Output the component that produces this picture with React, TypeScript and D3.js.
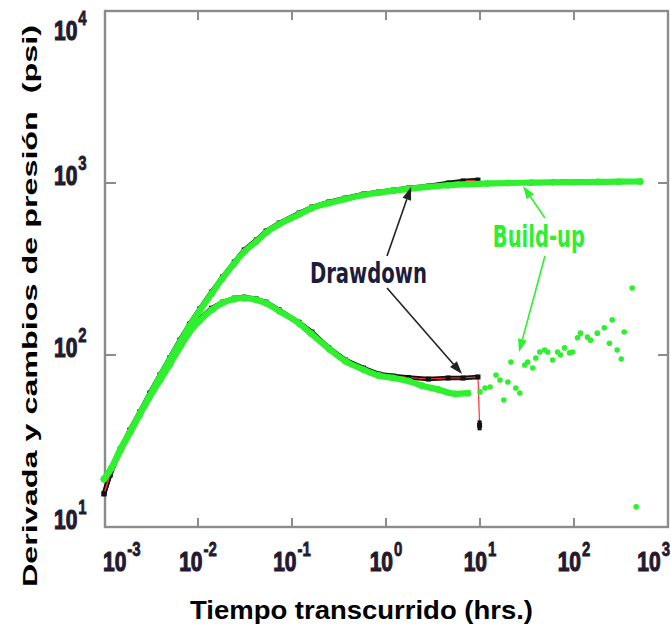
import React from 'react';
import * as d3 from 'd3';

const W = 671;
const H = 630;

// Axis ticks
const xTicks = [1e-3, 1e-2, 1e-1, 1, 10, 100, 1000];
const xExps = ['-3', '-2', '-1', '0', '1', '2', '3'];
const yTicks = [10, 100, 1000, 10000];
const yExps = ['1', '2', '3', '4'];

// Drawdown: pressure change
const ddT = [0.001, 0.00116, 0.00148, 0.00188, 0.0024, 0.00307, 0.00392, 0.005, 0.0064, 0.0081, 0.0104, 0.0139, 0.0182, 0.0243, 0.031, 0.0416, 0.053, 0.073, 0.119, 0.163, 0.247, 0.372, 0.578, 0.834, 1.2, 1.73, 2.82, 4.58, 6.61, 9.52];
const ddDp = [15.6, 20.1, 28.0, 36.6, 46.6, 60.1, 76.5, 96.1, 122, 151, 185, 232, 284, 347, 408, 466, 526, 585, 669, 725, 776, 818, 863, 887, 911, 935, 961, 1000, 1028, 1040];

// Drawdown: derivative
const ddDerT = [0.001, 0.00116, 0.00148, 0.00188, 0.0024, 0.00307, 0.00392, 0.005, 0.0064, 0.0081, 0.0104, 0.0139, 0.0182, 0.0243, 0.031, 0.0416, 0.053, 0.073, 0.119, 0.163, 0.247, 0.372, 0.578, 0.834, 1.2, 1.73, 2.82, 4.58, 6.61, 9.52, 9.9];
const ddDer = [15.6, 20.1, 28, 36, 45.5, 58, 73, 90, 115, 138, 162, 187, 203, 214, 217, 212, 203, 183, 155, 136, 110, 93.5, 84, 77.6, 75.5, 74, 72.5, 73.5, 73.5, 74.5, 39];

// Build-up: pressure change
const buT = [0.001, 0.0012, 0.0015, 0.0019, 0.0024, 0.003, 0.004, 0.005, 0.0065, 0.008, 0.0104, 0.014, 0.018, 0.024, 0.031, 0.042, 0.053, 0.073, 0.12, 0.16, 0.25, 0.37, 0.58, 0.83, 1.2, 1.73, 2.82, 4.58, 7.5, 12, 20, 35, 60, 100, 180, 300, 506];
const buDp = [19, 22, 28.5, 36, 45.5, 57, 76, 94, 120, 146, 181, 228, 277, 338, 398, 458, 515, 575, 658, 712, 765, 808, 852, 878, 902, 925, 950, 970, 985, 993, 1000, 1005, 1010, 1012, 1015, 1018, 1020];

// Build-up: derivative (smooth part)
const buDerT = [0.001, 0.0012, 0.0015, 0.0019, 0.0024, 0.003, 0.004, 0.005, 0.0065, 0.008, 0.0104, 0.014, 0.018, 0.024, 0.031, 0.042, 0.053, 0.073, 0.12, 0.16, 0.25, 0.37, 0.58, 0.83, 1.2, 1.73, 2.38, 3.59, 5.44, 7.46];
const buDer = [19, 22, 28, 35.5, 45, 56, 72, 88, 112, 134, 158, 183, 200, 211, 214, 209, 200, 180, 152, 133, 108, 92, 82, 76, 73.5, 70.6, 66.5, 63, 59.5, 60];

// Build-up: derivative (scattered late-time part)
const buScT = [10.0, 11.3, 12.8, 14.8, 16.3, 17.9, 19.8, 21.3, 24.0, 26.5, 29.9, 32.2, 36.4, 39.2, 43.2, 48.7, 52.5, 59.2, 66.9, 72.0, 79.3, 89.6, 96.4, 109, 117, 139, 150, 177, 210, 238, 255, 288, 318, 342, 416, 459];
const buScV = [61.0, 64.3, 65.2, 76.5, 71.6, 54.8, 69.7, 91.0, 64.3, 60.1, 87.5, 91.0, 84.0, 96.1, 104, 107, 104, 93.5, 104, 100, 110, 103, 104, 126, 134, 127, 122, 134, 144, 117, 160, 107, 94.8, 136, 245, 13.1];

// Annotations (data coordinates)
const ddLabel = { text: 'Drawdown', t: 0.155, v: 262 };
const buLabel = { text: 'Build-up', t: 13.7, v: 425 };
const ddArrows = [
  { t0: 1.025, v0: 376, t1: 1.85, v1: 948 },
  { t0: 1.025, v0: 245, t1: 6.44, v1: 77.6 },
];
const buArrows = [
  { t0: 49.1, v0: 626, t1: 28.7, v1: 961 },
  { t0: 49.1, v0: 376, t1: 26.0, v1: 104 },
];

const GREEN = '#2ef02e';
const FRAME = '#8c8c8c';
const LABEL = '#241a30';
const SANS = 'Liberation Sans, Arial, Helvetica, sans-serif';

const xScale = d3.scaleLog().domain([1e-3, 1e3]).range([104, 668]);
const yScale = d3.scaleLog().domain([10, 1e4]).range([527, 11]);

const zip = (ts: number[], vs: number[]) => ts.map((t, i) => [t, vs[i]] as [number, number]);

const lineGen = d3
  .line<[number, number]>()
  .x((d) => xScale(d[0]))
  .y((d) => yScale(d[1]));
const smoothGen = d3
  .line<[number, number]>()
  .x((d) => xScale(d[0]))
  .y((d) => yScale(d[1]))
  .curve(d3.curveMonotoneX);

function Arrow({ x0, y0, x1, y1, color, len, wid }: any) {
  const a = Math.atan2(y1 - y0, x1 - x0);
  const bx = x1 - len * Math.cos(a);
  const by = y1 - len * Math.sin(a);
  const px = (wid / 2) * Math.cos(a + Math.PI / 2);
  const py = (wid / 2) * Math.sin(a + Math.PI / 2);
  return (
    <g>
      <line x1={x0} y1={y0} x2={bx} y2={by} stroke={color} strokeWidth={1.6} />
      <polygon points={`${x1},${y1} ${bx + px},${by + py} ${bx - px},${by - py}`} fill={color} />
    </g>
  );
}

const TEN_FS = 21;
const EXP_FS = 15;
const tenW = TEN_FS * 1.112;
const expW = (s: string) => s.split('').reduce((acc, c) => acc + (c === '-' ? 0.333 : 0.556) * EXP_FS, 0);

function PowLabel({ left, base, exp }: { left: number; base: number; exp: string }) {
  return (
    <g transform={`translate(${left},${base}) scale(1,1.35)`}>
      <text x={0} y={0} fontSize={TEN_FS} fontFamily={SANS} fontWeight={700} fill={LABEL} stroke={LABEL} strokeWidth={0.9}>
        10
      </text>
      <text x={tenW + 1} y={-11} fontSize={EXP_FS} fontFamily={SANS} fontWeight={700} fill={LABEL} stroke={LABEL} strokeWidth={0.6}>
        {exp}
      </text>
    </g>
  );
}

export default function App() {
  const ddDpPts = zip(ddT, ddDp);
  const ddDerPts = zip(ddDerT, ddDer);
  const buDpPts = zip(buT, buDp);
  const buDerPts = zip(buDerT, buDer);
  const buScPts = zip(buScT, buScV);

  const x0 = xScale(1e-3) + 1;
  const x1 = xScale(1e3);
  const y0 = yScale(1e4);
  const y1 = yScale(10);

  return (
    <svg width={W} height={H} style={{ position: 'absolute', left: 0, top: 0, background: '#fff' }}>
      <rect x={0} y={0} width={W} height={H} fill="#fff" />

      {/* frame */}
      <rect x={x0} y={y0} width={x1 - x0} height={y1 - y0} fill="none" stroke={FRAME} strokeWidth={2.4} />
      {xTicks.slice(1, -1).map((t) => (
        <g key={'xt' + t}>
          <line x1={xScale(t)} x2={xScale(t)} y1={y1} y2={y1 - 9} stroke={FRAME} strokeWidth={2} />
          <line x1={xScale(t)} x2={xScale(t)} y1={y0} y2={y0 + 9} stroke={FRAME} strokeWidth={2} />
        </g>
      ))}
      {yTicks.slice(1, -1).map((v) => (
        <g key={'yt' + v}>
          <line x1={x0} x2={x0 + 11} y1={yScale(v)} y2={yScale(v)} stroke={FRAME} strokeWidth={2} />
          <line x1={x1} x2={x1 - 10} y1={yScale(v)} y2={yScale(v)} stroke={FRAME} strokeWidth={2} />
        </g>
      ))}

      {/* tick labels */}
      {xTicks.map((t, i) => {
        const total = tenW + 1 + expW(xExps[i]);
        const tx = xScale(t);
        const left = i === 0 ? tx - 1 : i === xTicks.length - 1 ? tx + 2 - total : tx - total / 2;
        return <PowLabel key={'xl' + i} left={left} base={571} exp={xExps[i]} />;
      })}
      {yTicks.map((v, i) => (
        <PowLabel key={'yl' + i} left={54} base={Math.max(yScale(v) + 2, 40)} exp={yExps[i]} />
      ))}

      {/* axis titles */}
      <text
        x={361.5}
        y={619}
        textAnchor="middle"
        fontFamily={SANS}
        fontWeight={700}
        fontSize={26}
        textLength={343}
        lengthAdjust="spacingAndGlyphs"
        fill="#000"
      >
        Tiempo transcurrido (hrs.)
      </text>
      <text
        transform="translate(37,306) rotate(-90)"
        x={0}
        y={0}
        textAnchor="middle"
        fontFamily={SANS}
        fontWeight={700}
        fontSize={21}
        textLength={562}
        lengthAdjust="spacingAndGlyphs"
        fill="#000"
        style={{ whiteSpace: 'pre' }}
      >
        {'Derivada y cambios de presión  (psi)'}
      </text>

      {/* drawdown: black squares joined by a thin red line */}
      <path d={lineGen(ddDpPts) || ''} fill="none" stroke="#111" strokeWidth={4.5} />
      <path d={lineGen(ddDerPts.slice(0, -1)) || ''} fill="none" stroke="#111" strokeWidth={4.5} />
      <path d={lineGen(ddDpPts) || ''} fill="none" stroke="#ff3030" strokeWidth={1} />
      <path d={lineGen(ddDerPts) || ''} fill="none" stroke="#ff3030" strokeWidth={1.2} />
      {ddDpPts.concat(ddDerPts).map((d, i) => (
        <rect key={'dd' + i} x={xScale(d[0]) - 2.5} y={yScale(d[1]) - 2.5} width={5} height={5} fill="#111" />
      ))}
      {ddDerPts.slice(-1).map((d, i) => (
        <rect key={'ddend' + i} x={xScale(d[0]) - 2} y={yScale(d[1]) - 5} width={4} height={10} fill="#111" />
      ))}

      {/* build-up: green */}
      <path d={smoothGen(buDpPts) || ''} fill="none" stroke={GREEN} strokeWidth={6.2} strokeLinecap="round" />
      <path d={smoothGen(buDerPts) || ''} fill="none" stroke={GREEN} strokeWidth={6.2} strokeLinecap="round" />
      {buDpPts.concat(buDerPts).map((d, i) => (
        <circle key={'bu' + i} cx={xScale(d[0])} cy={yScale(d[1])} r={3.4} fill={GREEN} />
      ))}
      {buScPts.map((d, i) => (
        <circle key={'bs' + i} cx={xScale(d[0])} cy={yScale(d[1])} r={2.8} fill={GREEN} />
      ))}

      {/* annotations */}
      {ddArrows.map((a, i) => (
        <Arrow key={'da' + i} x0={xScale(a.t0)} y0={yScale(a.v0)} x1={xScale(a.t1)} y1={yScale(a.v1)} color="#222" len={13} wid={9} />
      ))}
      {buArrows.map((a, i) => (
        <Arrow key={'ba' + i} x0={xScale(a.t0)} y0={yScale(a.v0)} x1={xScale(a.t1)} y1={yScale(a.v1)} color={GREEN} len={13} wid={9} />
      ))}
      <g transform={`translate(${xScale(ddLabel.t)},${yScale(ddLabel.v)}) scale(1,1.45)`}>
        <text x={0} y={0} fontFamily="DejaVu Sans, sans-serif" fontWeight={700} fontSize={20} textLength={117} lengthAdjust="spacingAndGlyphs" fill="#1c1c3c">
          {ddLabel.text}
        </text>
      </g>
      <g transform={`translate(${xScale(buLabel.t)},${yScale(buLabel.v)}) scale(1,1.5)`}>
        <text x={0} y={0} fontFamily="DejaVu Sans, sans-serif" fontWeight={700} fontSize={19.5} textLength={92} lengthAdjust="spacingAndGlyphs" fill={GREEN}>
          {buLabel.text}
        </text>
      </g>
    </svg>
  );
}
